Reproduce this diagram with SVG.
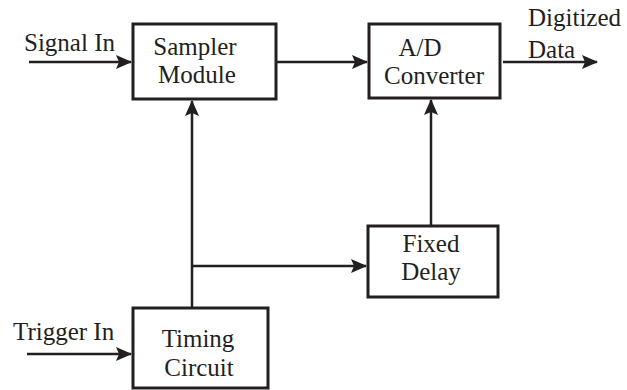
<svg xmlns="http://www.w3.org/2000/svg" width="627" height="390" viewBox="0 0 627 390">
<style>
.box{fill:#fff;stroke:#231f20;stroke-width:3}
.ln{fill:none;stroke:#231f20;stroke-width:2.5}
text{font-family:"Liberation Serif","Times New Roman",serif;font-size:25px;fill:#231f20}
.c{text-anchor:middle}
</style>
<defs>
<marker id="ah" markerWidth="16" markerHeight="14" refX="15" refY="7" orient="auto" markerUnits="userSpaceOnUse">
<path d="M0,0 L16,7 L0,14 L3,7 Z" fill="#231f20"/>
</marker>
</defs>
<g id="connectors">
<path class="ln" d="M29,62 H131" marker-end="url(#ah)"/>
<path class="ln" d="M276,62 H367" marker-end="url(#ah)"/>
<path class="ln" d="M503,62 H597" marker-end="url(#ah)"/>
<path class="ln" d="M431,226 V100" marker-end="url(#ah)"/>
<path class="ln" d="M192,307 V101" marker-end="url(#ah)"/>
<path class="ln" d="M192,266 H366" marker-end="url(#ah)"/>
<path class="ln" d="M27,354 H131" marker-end="url(#ah)"/>
</g>
<g id="labels">
<text x="24" y="51">Signal In</text>
<text x="13" y="340">Trigger In</text>
<text x="528" y="26">Digitized</text>
<text x="528" y="58">Data</text>
</g>
<g id="sampler">
<rect class="box" x="133" y="24" width="143" height="75"/>
<text class="c" x="195" y="55">Sampler</text>
<text class="c" x="197" y="83">Module</text>
</g>
<g id="adc">
<rect class="box" x="369" y="24" width="131" height="74"/>
<text class="c" x="420" y="56">A/D</text>
<text class="c" x="434" y="84">Converter</text>
</g>
<g id="delay">
<rect class="box" x="368" y="226" width="130" height="71"/>
<text class="c" x="431" y="252">Fixed</text>
<text class="c" x="431" y="280">Delay</text>
</g>
<g id="timing">
<rect class="box" x="133" y="308" width="135" height="80"/>
<text class="c" x="198" y="347">Timing</text>
<text class="c" x="199" y="376">Circuit</text>
</g>
</svg>
